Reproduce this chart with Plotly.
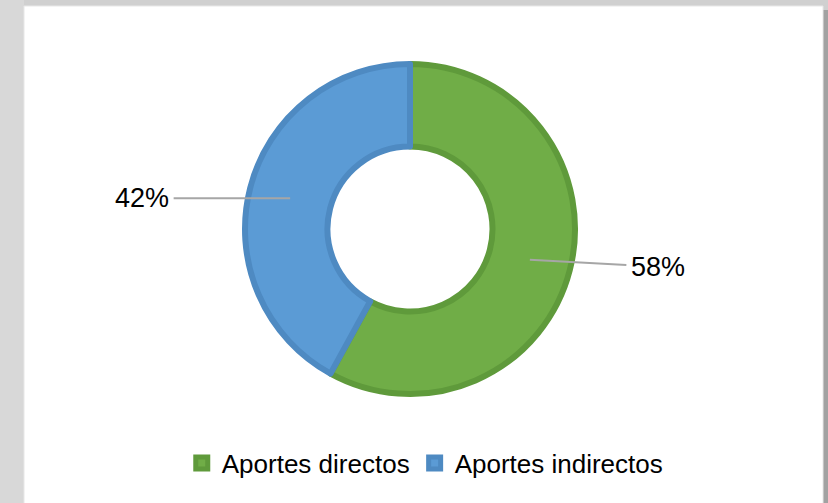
import math
import plotly.graph_objects as go

labels = ["Aportes directos", "Aportes indirectos"]
values = [58, 42]
colors = ["#70AD47", "#5B9BD5"]
edge_colors = ["#5F9A3B", "#4E8AC2"]

W, H = 828, 503
cx_px, cy_px, r_px = 410, 229, 165
hole = 0.5

fig = go.Figure()
fig.add_trace(go.Pie(
    labels=labels, values=values, sort=False, direction="clockwise", rotation=0,
    hole=hole, textinfo="none", hoverinfo="label+percent",
    marker=dict(colors=colors, line=dict(color=edge_colors, width=6)),
    domain=dict(x=[(cx_px - r_px) / W, (cx_px + r_px) / W],
                y=[1 - (cy_px + r_px) / H, 1 - (cy_px - r_px) / H]),
))

# label annotations with leader lines from the middle of each ring segment
total = sum(values)
cum = 0
offsets = [(128, 7), (-148, 0)]
annotations = []
for v, (ax, ay) in zip(values, offsets):
    theta = math.radians((cum + v / 2) / total * 360)
    cum += v
    rm = r_px * (1 + hole) / 2
    px = cx_px + rm * math.sin(theta)
    py = cy_px - rm * math.cos(theta)
    annotations.append(dict(
        x=px / W, y=1 - py / H, xref="paper", yref="paper",
        text=f"{round(v / total * 100)}%", showarrow=True, arrowhead=0,
        arrowwidth=2, arrowcolor="#A6A6A6", ax=ax, ay=ay, standoff=0,
        borderpad=4,
        font=dict(family="Liberation Sans, Arial", size=27, color="#000000"),
    ))

fig.update_layout(
    width=W, height=H,
    margin=dict(l=0, r=0, t=0, b=0),
    paper_bgcolor="#D0D0D0",
    plot_bgcolor="white",
    annotations=annotations,
    shapes=[
        dict(type="rect", xref="paper", yref="paper", x0=0, x1=24 / W,
             y0=0, y1=1, fillcolor="#D8D8D8", line=dict(width=0), layer="below"),
        dict(type="rect", xref="paper", yref="paper", x0=823 / W, x1=1,
             y0=0, y1=1 - 10 / H, fillcolor="#A2A2A2", line=dict(width=0), layer="below"),
        dict(type="rect", xref="paper", yref="paper", x0=24 / W, x1=823 / W,
             y0=-0.05, y1=1 - 6 / H, fillcolor="white",
             line=dict(color="#E8E8E8", width=1), layer="below"),
    ],
    showlegend=True,
    legend=dict(orientation="h", x=0.513, xanchor="center", y=(503 - 463) / H,
                yanchor="middle", font=dict(family="Liberation Sans, Arial", size=26, color="#000000"),
                bgcolor="rgba(0,0,0,0)", itemclick=False),
)

fig.write_html("out.html", config={"displayModeBar": False},
               post_script="document.body.style.margin='0';document.body.style.overflow='hidden';")
